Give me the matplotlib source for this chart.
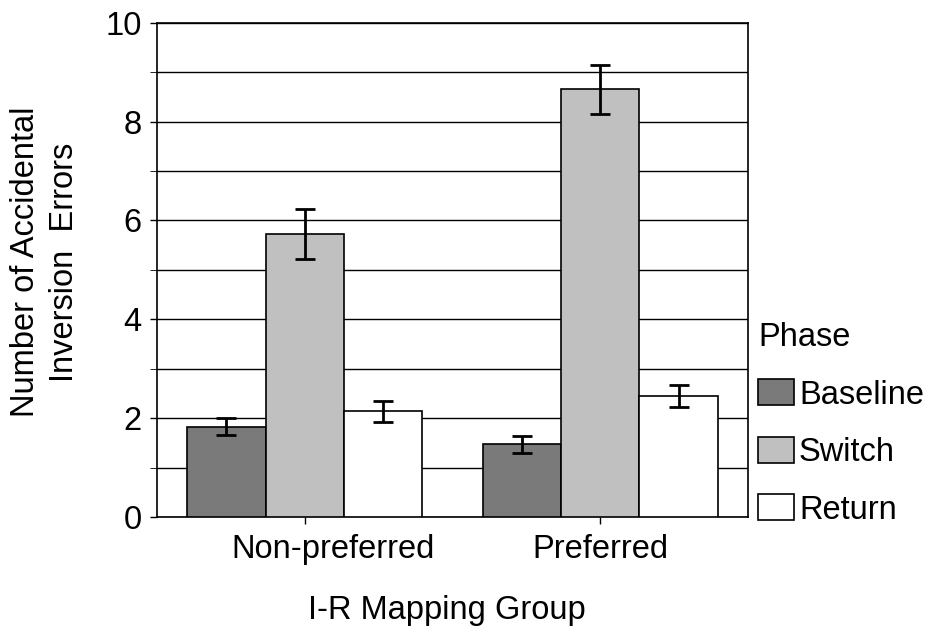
import numpy as np
import matplotlib
matplotlib.use("Agg")
import matplotlib.pyplot as plt
import matplotlib.transforms as mtransforms
from matplotlib.patches import Patch

plt.rcParams["font.family"] = ["Liberation Sans", "DejaVu Sans"]

groups = ["Non-preferred", "Preferred"]
phases = ["Baseline", "Switch", "Return"]
means = {
    "Baseline": [1.83, 1.47],
    "Switch": [5.73, 8.65],
    "Return": [2.14, 2.45],
}
errs = {
    "Baseline": [0.17, 0.17],
    "Switch": [0.51, 0.50],
    "Return": [0.21, 0.22],
}
colors = {"Baseline": "#7a7a7a", "Switch": "#c0c0c0", "Return": "#ffffff"}

FS = 23.5

fig = plt.figure(figsize=(9.32, 6.32), dpi=100)
ax = fig.add_axes([0.1685, 0.182, 0.634, 0.782])

x = np.arange(len(groups))
w = 0.265
for i, ph in enumerate(phases):
    ax.bar(x + (i - 1) * w, means[ph], w, color=colors[ph],
           edgecolor="black", linewidth=1.2, zorder=3,
           yerr=errs[ph], error_kw=dict(ecolor="black", elinewidth=2,
                                        capsize=7, capthick=2, zorder=4))

ax.set_xlim(-0.5, 1.5)
ax.set_ylim(0, 10)
ax.set_yticks([0, 2, 4, 6, 8, 10])
ax.set_yticks(np.arange(0, 11, 1), minor=True)
ax.yaxis.grid(True, which="both", color="black", linewidth=1, zorder=0)
ax.set_axisbelow(True)
ax.set_xticks(x)
ax.set_xticklabels(groups)
ax.tick_params(axis="both", labelsize=FS, direction="out", length=5,
               width=1, colors="black")
ax.tick_params(axis="y", which="minor", length=5)
ax.tick_params(axis="x", pad=7)
ax.tick_params(axis="y", pad=6)
for s in ax.spines.values():
    s.set_linewidth(1.2)
    s.set_color("black")

# first category label sits a little right of its tick in the original
lab0 = ax.get_xticklabels()[0]
lab0.set_transform(lab0.get_transform() +
                   mtransforms.ScaledTranslation(0.28, 0, fig.dpi_scale_trans))

ax.set_xlabel("I-R Mapping Group", fontsize=FS, va="center")
ax.xaxis.set_label_coords(0.49, -0.19)
ax.set_ylabel("Number of Accidental\nInversion  Errors", fontsize=FS,
              linespacing=1.35, va="center")
ax.yaxis.set_label_coords(-0.19, 0.516)

handles = [Patch(facecolor=colors[p], edgecolor="black", linewidth=1.2)
           for p in phases]
leg = fig.legend(handles, phases, title="Phase", loc="upper left",
                 bbox_to_anchor=(0.8135, 0.49), frameon=False, fontsize=FS,
                 title_fontsize=FS, alignment="left", handlelength=1.1,
                 handleheight=0.85, handletextpad=0.15, labelspacing=0.8,
                 borderpad=0, borderaxespad=0)

fig.savefig("out.png", dpi=100)
